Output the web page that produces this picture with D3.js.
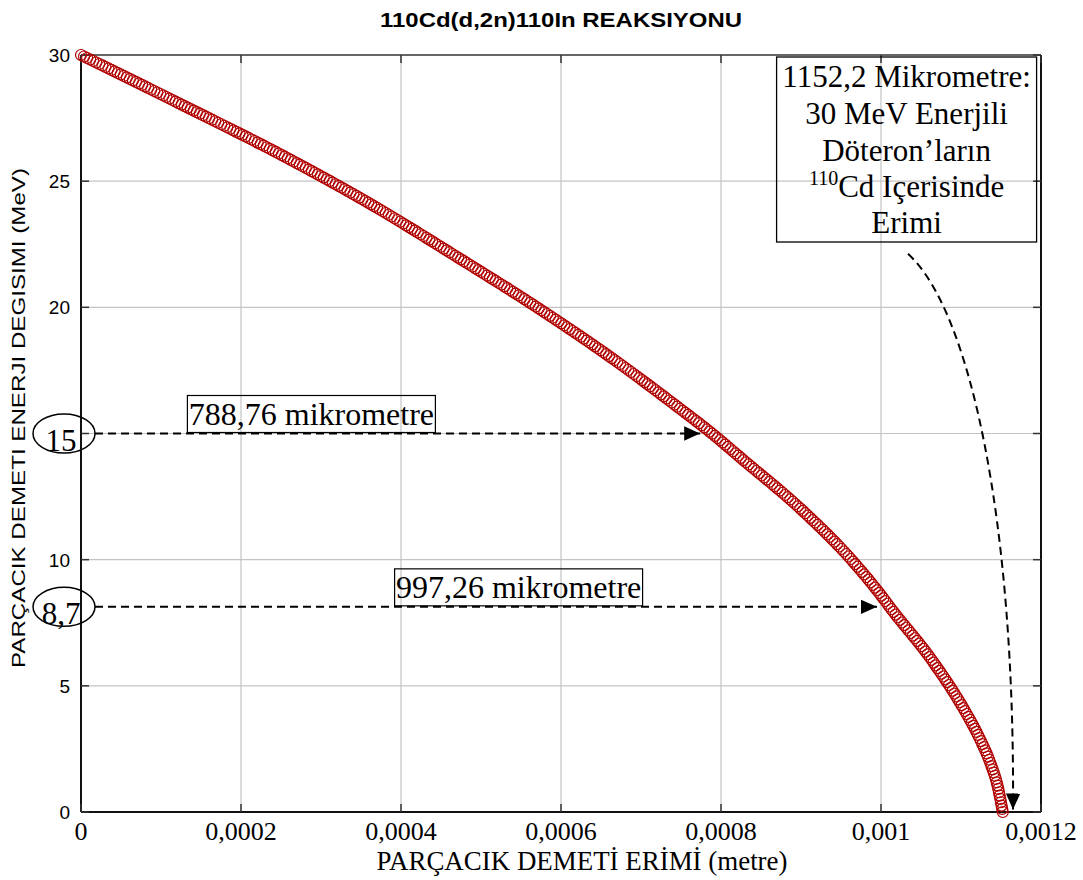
<!DOCTYPE html>
<html>
<head>
<meta charset="utf-8">
<script src="https://cdn.jsdelivr.net/npm/d3@7"></script>
<style>
  body { margin: 0; background: #fff; }
  svg { display: block; }
</style>
</head>
<body>
<div id="chart"></div>
<script>
// Text
const TITLE = "110Cd(d,2n)110In REAKSIYONU";
const Y_LABEL = "PARÇACIK DEMETI ENERJI DEGISIMI (MeV)";
const X_LABEL = "PARÇACIK DEMETİ ERİMİ (metre)";

// Axes
const xTicks = [0, 0.0002, 0.0004, 0.0006, 0.0008, 0.001, 0.0012];
const xTickLabels = ["0", "0,0002", "0,0004", "0,0006", "0,0008", "0,001", "0,0012"];
const yTicks = [0, 5, 10, 15, 20, 25, 30];
const yTickLabels = ["0", "5", "10", "", "20", "25", "30"];

// Curve: energy (MeV) vs depth (micrometre)
const energyMeV   = [30, 28, 26, 24, 22, 20, 18, 16, 15, 14, 12, 10, 8.7, 8, 6, 4, 3, 2, 1, 0];
const depthMicron = [0, 128, 253, 367, 470, 570, 663, 748, 788.76, 826, 900, 963, 997.26, 1014, 1064, 1105, 1122, 1136, 1146, 1152.2];

// Horizontal arrows (energy level, arrow tip depth in metre, labels)
const arrowEnergy = [15, 8.13];
const arrowTip = [0.000774, 0.000995];
const arrowLabels = ["788,76 mikrometre", "997,26 mikrometre"];
const markLabels = ["15", "8,7"];
const labelCenter = [0.000288, 0.000547];

// Callout box
const calloutLines = ["1152,2 Mikrometre:", "30 MeV Enerjili", "Döteron’ların", "", "Erimi"];
const calloutX = 0.001032;
const calloutArrow = [[0.00103375, 22.12], [0.00111125, 19.9], [0.0011675, 11.57], [0.001165, 0.1]];

const W = 1083, H = 880;
const M = { left: 81, right: 42, top: 55, bottom: 68 };

const svg = d3.select("#chart").append("svg")
    .attr("width", W)
    .attr("height", H);

const x = d3.scaleLinear().domain([0, 0.0012]).range([M.left, W - M.right]);
const y = d3.scaleLinear().domain([0, 30]).range([H - M.bottom, M.top]);

const SERIF = "'Liberation Serif', 'Times New Roman', serif";
const SANS = "'Liberation Sans', Arial, Helvetica, sans-serif";

svg.append("defs").append("marker")
    .attr("id", "tri")
    .attr("viewBox", "0 0 10 10")
    .attr("refX", 10).attr("refY", 5)
    .attr("markerWidth", 16).attr("markerHeight", 16)
    .attr("markerUnits", "userSpaceOnUse")
    .attr("orient", "auto")
    .append("path").attr("d", "M0,0.5 L10,5 L0,9.5 Z").attr("fill", "#000");

// grid
const grid = svg.append("g");
grid.selectAll("line.gx").data(xTicks.slice(1, -1)).enter().append("line")
    .attr("x1", d => x(d)).attr("x2", d => x(d))
    .attr("y1", y(0)).attr("y2", y(30))
    .attr("stroke", "#c4c4c4").attr("stroke-width", 1.2);
grid.selectAll("line.gy").data(yTicks.slice(1, -1)).enter().append("line")
    .attr("y1", d => y(d)).attr("y2", d => y(d))
    .attr("x1", x(0)).attr("x2", x(0.0012))
    .attr("stroke", "#c4c4c4").attr("stroke-width", 1.2);

// frame
svg.append("line").attr("x1", x(0)).attr("x2", x(0.0012)).attr("y1", y(30)).attr("y2", y(30))
    .attr("stroke", "#666").attr("stroke-width", 2);
svg.append("line").attr("x1", x(0.0012)).attr("x2", x(0.0012)).attr("y1", y(30)).attr("y2", y(0))
    .attr("stroke", "#111").attr("stroke-width", 2);
svg.append("line").attr("x1", x(0)).attr("x2", x(0)).attr("y1", y(30)).attr("y2", y(0))
    .attr("stroke", "#111").attr("stroke-width", 2);
svg.append("line").attr("x1", x(0)).attr("x2", x(0.0012)).attr("y1", y(0)).attr("y2", y(0))
    .attr("stroke", "#111").attr("stroke-width", 2);

// inward ticks
const tk = svg.append("g").attr("stroke", "#333").attr("stroke-width", 1.5);
xTicks.forEach(t => {
    tk.append("line").attr("x1", x(t)).attr("x2", x(t)).attr("y1", y(0)).attr("y2", y(0) - 8);
    tk.append("line").attr("x1", x(t)).attr("x2", x(t)).attr("y1", y(30)).attr("y2", y(30) + 8);
});
yTicks.forEach(t => {
    tk.append("line").attr("y1", y(t)).attr("y2", y(t)).attr("x1", x(0)).attr("x2", x(0) + 8);
    tk.append("line").attr("y1", y(t)).attr("y2", y(t)).attr("x1", x(0.0012)).attr("x2", x(0.0012) - 8);
});

// tick labels
svg.append("g").selectAll("text").data(yTicks).enter().append("text")
    .attr("x", x(0) - 11).attr("y", d => y(d)).attr("dy", "0.36em")
    .attr("text-anchor", "end")
    .style("font-family", SANS).style("font-size", "19px")
    .text((d, i) => yTickLabels[i]);

svg.append("g").selectAll("text").data(xTicks).enter().append("text")
    .attr("x", d => x(d)).attr("y", 840)
    .attr("text-anchor", "middle")
    .style("font-family", SERIF).style("font-size", "26px")
    .text((d, i) => xTickLabels[i]);

// title and axis labels
svg.append("text").attr("x", (x(0) + x(0.0012)) / 2).attr("y", 27)
    .attr("text-anchor", "middle")
    .attr("textLength", 362).attr("lengthAdjust", "spacingAndGlyphs")
    .style("font-family", SANS).style("font-size", "20px").style("font-weight", "bold")
    .text(TITLE);

svg.append("text").attr("transform", "translate(25,418) rotate(-90)")
    .attr("text-anchor", "middle")
    .attr("textLength", 500).attr("lengthAdjust", "spacingAndGlyphs")
    .style("font-family", SANS).style("font-size", "19px")
    .text(Y_LABEL);

svg.append("text").attr("x", 582).attr("y", 870)
    .attr("text-anchor", "middle")
    .attr("textLength", 411).attr("lengthAdjust", "spacingAndGlyphs")
    .style("font-family", SERIF).style("font-size", "27px")
    .text(X_LABEL);

// curve
const points = depthMicron.map((d, i) => [d * 1e-6, energyMeV[i]]);
const line = d3.line().x(d => x(d[0])).y(d => y(d[1])).curve(d3.curveMonotoneX);
const curve = svg.append("path").attr("d", line(points))
    .attr("fill", "none").attr("stroke", "none");

// circle markers along the curve
const node = curve.node();
const total = node.getTotalLength();
const step = 3.4;
const marks = d3.range(0, total, step).concat([total]).map(l => node.getPointAtLength(l));
svg.append("g").selectAll("circle").data(marks).enter().append("circle")
    .attr("cx", d => d.x).attr("cy", d => d.y).attr("r", 5.5)
    .attr("fill", "none").attr("stroke", "#b00000").attr("stroke-width", 1.2);

// horizontal arrows with labels
arrowEnergy.forEach((e, i) => {
    const yy = y(e);
    svg.append("line")
        .attr("x1", x(0) + 14).attr("x2", x(arrowTip[i]))
        .attr("y1", yy).attr("y2", yy)
        .attr("stroke", "#000").attr("stroke-width", 2)
        .attr("stroke-dasharray", "8,5")
        .attr("marker-end", "url(#tri)");

    const cx = x(labelCenter[i]);
    svg.append("rect")
        .attr("x", cx - 124).attr("y", yy - 38)
        .attr("width", 248).attr("height", 37)
        .attr("fill", "none").attr("stroke", "#000").attr("stroke-width", 1.2);
    svg.append("text")
        .attr("x", cx).attr("y", yy - 9)
        .attr("text-anchor", "middle")
        .style("font-family", SERIF).style("font-size", "32px")
        .text(arrowLabels[i]);

    svg.append("ellipse")
        .attr("cx", x(0) - 17).attr("cy", yy)
        .attr("rx", 31).attr("ry", 19.5)
        .attr("fill", "none").attr("stroke", "#000").attr("stroke-width", 1.5);
    svg.append("text")
        .attr("x", x(0) - 20).attr("y", yy + 17)
        .attr("text-anchor", "middle")
        .style("font-family", SERIF).style("font-size", "31px")
        .text(markLabels[i]);
});

// callout box
const cbx = x(calloutX);
svg.append("rect")
    .attr("x", cbx - 130).attr("y", 57)
    .attr("width", 260).attr("height", 185)
    .attr("fill", "none").attr("stroke", "#000").attr("stroke-width", 1.3);
const lineY = [87, 123.5, 160.5, 197, 233];
calloutLines.forEach((t, i) => {
    if (!t) return;
    svg.append("text").attr("x", cbx).attr("y", lineY[i])
        .attr("text-anchor", "middle")
        .style("font-family", SERIF).style("font-size", "31px")
        .text(t);
});
const sup = svg.append("text").attr("x", cbx).attr("y", lineY[3])
    .attr("text-anchor", "middle")
    .style("font-family", SERIF).style("font-size", "31px");
sup.append("tspan").attr("dy", -12).style("font-size", "20px").text("110");
sup.append("tspan").attr("dy", 12).text("Cd Içerisinde");

// curved dashed arrow
const c = calloutArrow.map(p => [x(p[0]), y(p[1])]);
svg.append("path")
    .attr("d", `M${c[0]}C${c[1]} ${c[2]} ${c[3]}`)
    .attr("fill", "none").attr("stroke", "#000").attr("stroke-width", 2)
    .attr("stroke-dasharray", "8,5")
    .attr("marker-end", "url(#tri)");
</script>
</body>
</html>
